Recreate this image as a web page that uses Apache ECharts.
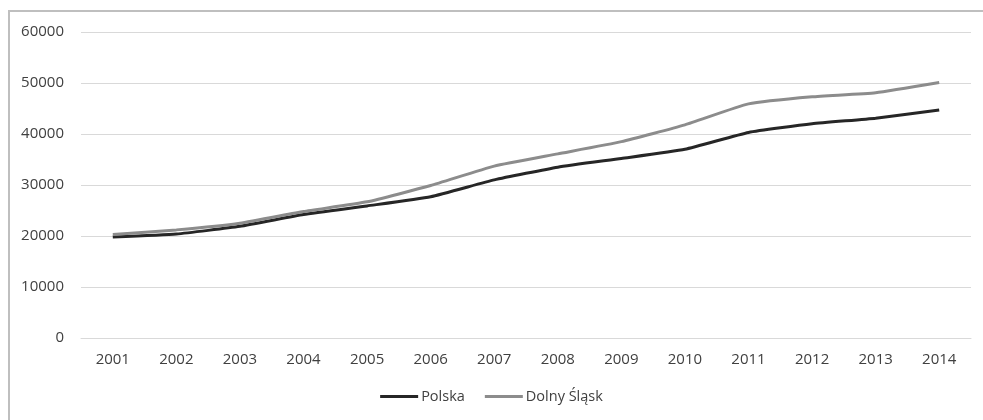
<!DOCTYPE html>
<html>
<head>
<meta charset="utf-8">
<script src="https://cdn.jsdelivr.net/npm/echarts@6/dist/echarts.min.js"></script>
<style>
html,body{margin:0;padding:0;background:#fff;}
#frame{position:absolute;left:8px;top:10px;width:990px;height:420px;border-left:2px solid #bfbfbf;border-top:2px solid #bfbfbf;}
#chart{position:absolute;left:0;top:0;width:983px;height:420px;}
</style>
</head>
<body>
<div id="frame"></div>
<div id="chart"></div>
<script>
var years = ['2001','2002','2003','2004','2005','2006','2007','2008','2009','2010','2011','2012','2013','2014'];
var polska = [19800, 20400, 21900, 24200, 25900, 27700, 31000, 33500, 35200, 37000, 40300, 42000, 43100, 44700];
var dolnySlask = [20300, 21200, 22500, 24800, 26700, 29900, 33700, 36100, 38500, 41800, 45900, 47300, 48100, 50100];
var yTicks = {min: 0, max: 60000, interval: 10000};

var chart = echarts.init(document.getElementById('chart'));
chart.setOption({
  animation: false,
  backgroundColor: 'transparent',
  textStyle: {fontFamily: 'Open Sans', color: '#404040'},
  grid: {left: 81, right: 12, top: 32, bottom: 82},
  legend: {
    bottom: 11, left: 'center',
    itemWidth: 38, itemHeight: 3, itemGap: 20,
    icon: 'rect',
    textStyle: {fontFamily: 'Open Sans', fontSize: 14.5, color: '#404040', padding: [0,0,0,-2]},
    data: ['Polska', 'Dolny Śląsk']
  },
  xAxis: {
    type: 'category', data: years, boundaryGap: true,
    axisLine: {show: true, lineStyle: {color: '#d9d9d9', width: 1}},
    axisTick: {show: false},
    axisLabel: {fontFamily: 'Open Sans', fontSize: 15, color: '#404040', margin: 14}
  },
  yAxis: {
    type: 'value', min: yTicks.min, max: yTicks.max, interval: yTicks.interval,
    axisLine: {show: false}, axisTick: {show: false},
    axisLabel: {fontFamily: 'Open Sans', fontSize: 15, color: '#404040', margin: 17,
      formatter: function (v) { return String(v); }},
    splitLine: {lineStyle: {color: '#d9d9d9', width: 1}}
  },
  series: [
    {name: 'Polska', type: 'line', data: polska, smooth: 0.15, symbol: 'none',
     lineStyle: {color: '#262626', width: 3}, itemStyle: {color: '#262626'}},
    {name: 'Dolny Śląsk', type: 'line', data: dolnySlask, smooth: 0.15, symbol: 'none',
     lineStyle: {color: '#8c8c8c', width: 3}, itemStyle: {color: '#8c8c8c'}}
  ]
});
</script>
</body>
</html>
